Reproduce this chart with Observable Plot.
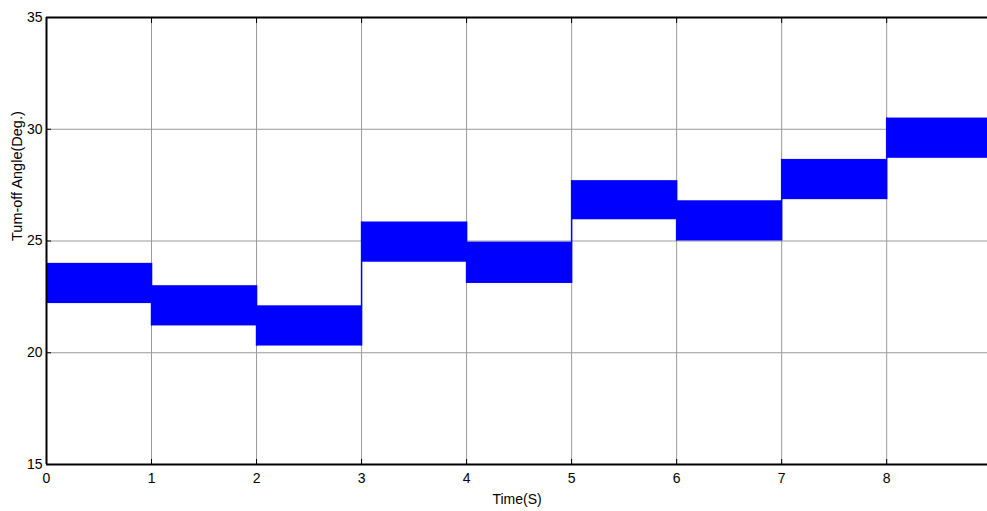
<!DOCTYPE html>
<html>
<head>
<meta charset="utf-8">
<script src="https://cdn.jsdelivr.net/npm/d3@7"></script>
<script src="https://cdn.jsdelivr.net/npm/@observablehq/plot@0.6"></script>
<style>
  html, body { margin: 0; padding: 0; background: #fff; }
  #chart svg { display: block; }
</style>
</head>
<body>
<div id="chart"></div>
<script>
// Tick values
const xTicks = [0, 1, 2, 3, 4, 5, 6, 7, 8];
const yTicks = [15, 20, 25, 30, 35];
const xLabel = "Time(S)";
const yLabel = "Tum-off Angle(Deg.)";

// Each step of the turn-off angle signal: start/end time and oscillation band (deg.)
const segStart = [0, 1, 2, 3, 4, 5, 6, 7, 8];
const segEnd   = [1, 2, 3, 4, 5, 6, 7, 8, 8.96];
const bandLow  = [22.2, 21.2, 20.3, 24.05, 23.1, 25.95, 25.0, 26.85, 28.7];
const bandHigh = [24.0, 23.0, 22.1, 25.85, 24.95, 27.7, 26.8, 28.65, 30.5];

const bands = segStart.map((s, i) => ({x1: s, x2: segEnd[i], lo: bandLow[i], hi: bandHigh[i]}));
const jumps = segStart.slice(1).map((s, i) => ({
  x: s,
  y1: Math.min(bandLow[i], bandLow[i + 1]),
  y2: Math.max(bandHigh[i], bandHigh[i + 1])
}));

const chart = Plot.plot({
  width: 987,
  height: 511,
  marginLeft: 46,
  marginTop: 17,
  marginBottom: 47,
  marginRight: 0,
  style: {fontFamily: "'Liberation Sans Narrow', 'Liberation Sans', Arial, sans-serif", fontSize: "13px", background: "#fff", color: "#000"},
  x: {domain: [0, 8.96]},
  y: {domain: [15, 35]},
  marks: [
    Plot.gridX(xTicks.slice(1), {stroke: "#9a9a9a", strokeOpacity: 1, strokeWidth: 1}),
    Plot.gridY(yTicks.slice(1, -1), {stroke: "#9a9a9a", strokeOpacity: 1, strokeWidth: 1}),
    Plot.rect(bands, {x1: "x1", x2: "x2", y1: "lo", y2: "hi", fill: "#0000ff"}),
    Plot.ruleX(jumps, {x: "x", y1: "y1", y2: "y2", stroke: "#0000ff", strokeWidth: 1.5}),
    Plot.ruleY([15, 35], {stroke: "#000", strokeWidth: 2}),
    Plot.ruleX([0], {stroke: "#000", strokeWidth: 2}),
    Plot.axisX({ticks: xTicks, tickSize: -5, tickPadding: 14, tickFormat: d => String(d), fontSize: 14, label: null}),
    Plot.axisX({anchor: "top", ticks: xTicks, tickSize: -5, tickFormat: () => "", label: null}),
    Plot.axisY({ticks: yTicks, tickSize: -5, tickPadding: 9, fontSize: 14, label: null}),
    Plot.text([xLabel], {text: d => d, frameAnchor: "bottom", dy: 39, fontSize: 14}),
    Plot.text([yLabel], {text: d => d, frameAnchor: "left", dx: -29, rotate: -90, fontSize: 14.5})
  ]
});
document.getElementById("chart").appendChild(chart);
</script>
</body>
</html>
